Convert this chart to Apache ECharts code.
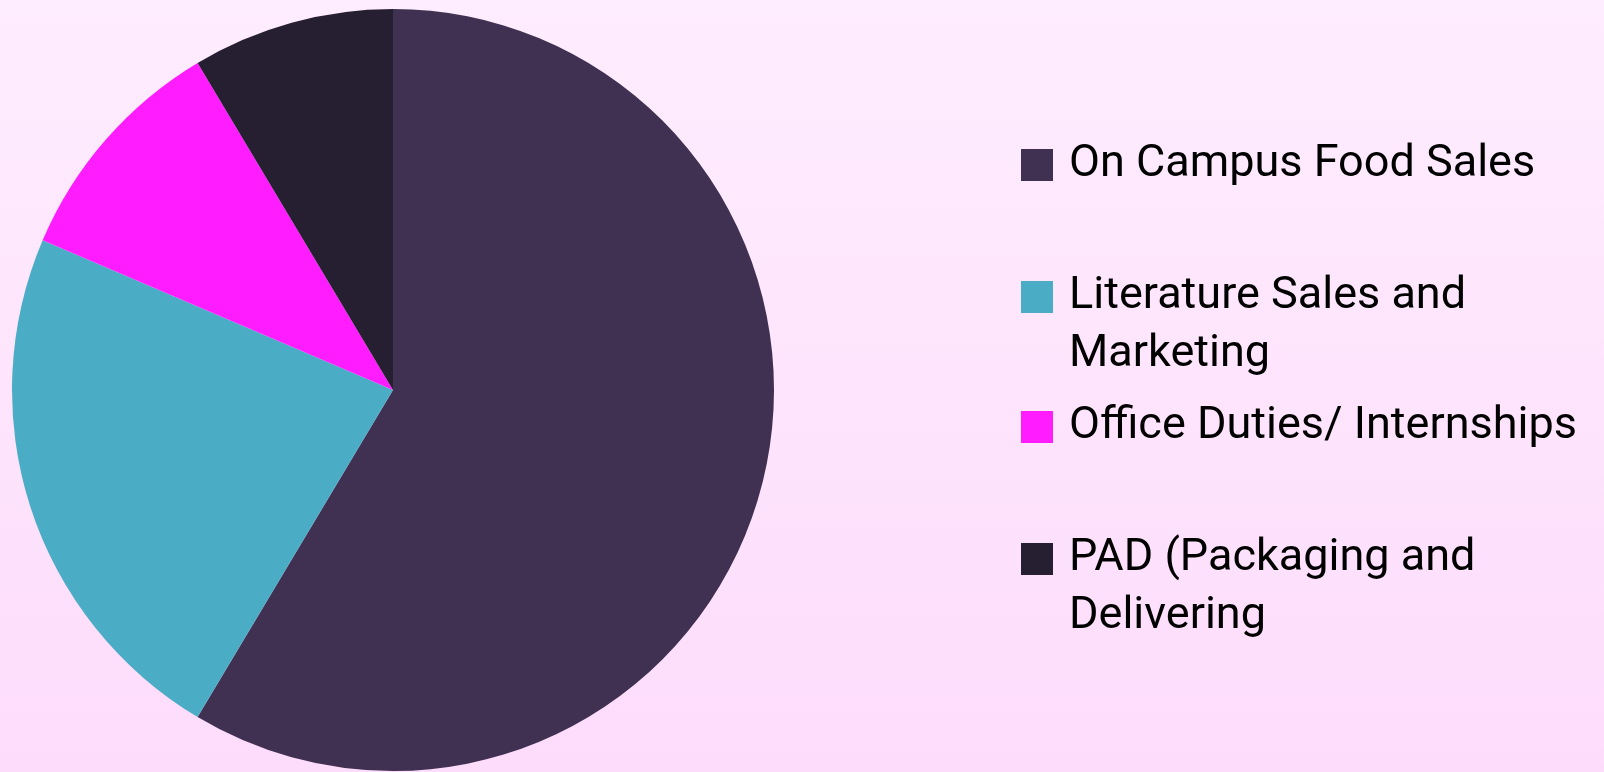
<!DOCTYPE html>
<html>
<head>
<meta charset="utf-8">
<script src="https://cdn.jsdelivr.net/npm/echarts@6/dist/echarts.min.js"></script>
<style>
  html, body { margin: 0; padding: 0; }
  #main { width: 1604px; height: 772px; }
</style>
</head>
<body>
<div id="main"></div>
<script>
var categories = ['On Campus Food Sales', 'Literature Sales and Marketing', 'Office Duties/ Internships', 'PAD (Packaging and Delivering'];
var shares = [41, 16, 7, 6];
var sliceColors = ['#403152', '#4BACC6', '#FF1DFF', '#261F31'];
// where the wrapped legend labels break
var legendLines = [
  ['On Campus Food Sales'],
  ['Literature Sales and', 'Marketing'],
  ['Office Duties/ Internships'],
  ['PAD (Packaging and', 'Delivering']
];
var iconTops = [149, 281, 411, 543];

var myChart = echarts.init(document.getElementById('main'));

// a negative top padding nudges the middle-aligned text down a little
var lineH = 58, iconW = 32, iconH = 32, padTop = -4;
var legends = categories.map(function (name, i) {
  var lines = legendLines[i];
  var nLines = lines.length > 1 ? 3 : 1;
  return {
    data: [name],
    left: 1021,
    top: iconTops[i] - (nLines * lineH + padTop - iconH) / 2,
    padding: 0,
    orient: 'vertical',
    icon: 'rect',
    itemWidth: iconW,
    itemHeight: iconH,
    selectedMode: false,
    formatter: function () {
      // leading blank line keeps the first line level with the square
      return lines.length > 1 ? '\n' + lines.join('\n') : lines[0];
    },
    textStyle: {
      fontFamily: 'Roboto, "Liberation Sans", sans-serif',
      fontSize: 45,
      lineHeight: lineH,
      color: '#000',
      padding: [padTop, 0, 0, 11]
    }
  };
});

var option = {
  backgroundColor: {
    type: 'linear', x: 0, y: 0, x2: 0, y2: 1,
    colorStops: [
      { offset: 0, color: '#FEEDFE' },
      { offset: 1, color: '#FDDCFB' }
    ]
  },
  color: sliceColors,
  legend: legends,
  series: [{
    type: 'pie',
    center: [393, 390],
    radius: 381,
    startAngle: 90,
    clockwise: true,
    label: { show: false },
    labelLine: { show: false },
    emphasis: { disabled: true },
    animation: false,
    data: categories.map(function (c, i) {
      return { name: c, value: shares[i] };
    })
  }]
};
myChart.setOption(option);
</script>
</body>
</html>
